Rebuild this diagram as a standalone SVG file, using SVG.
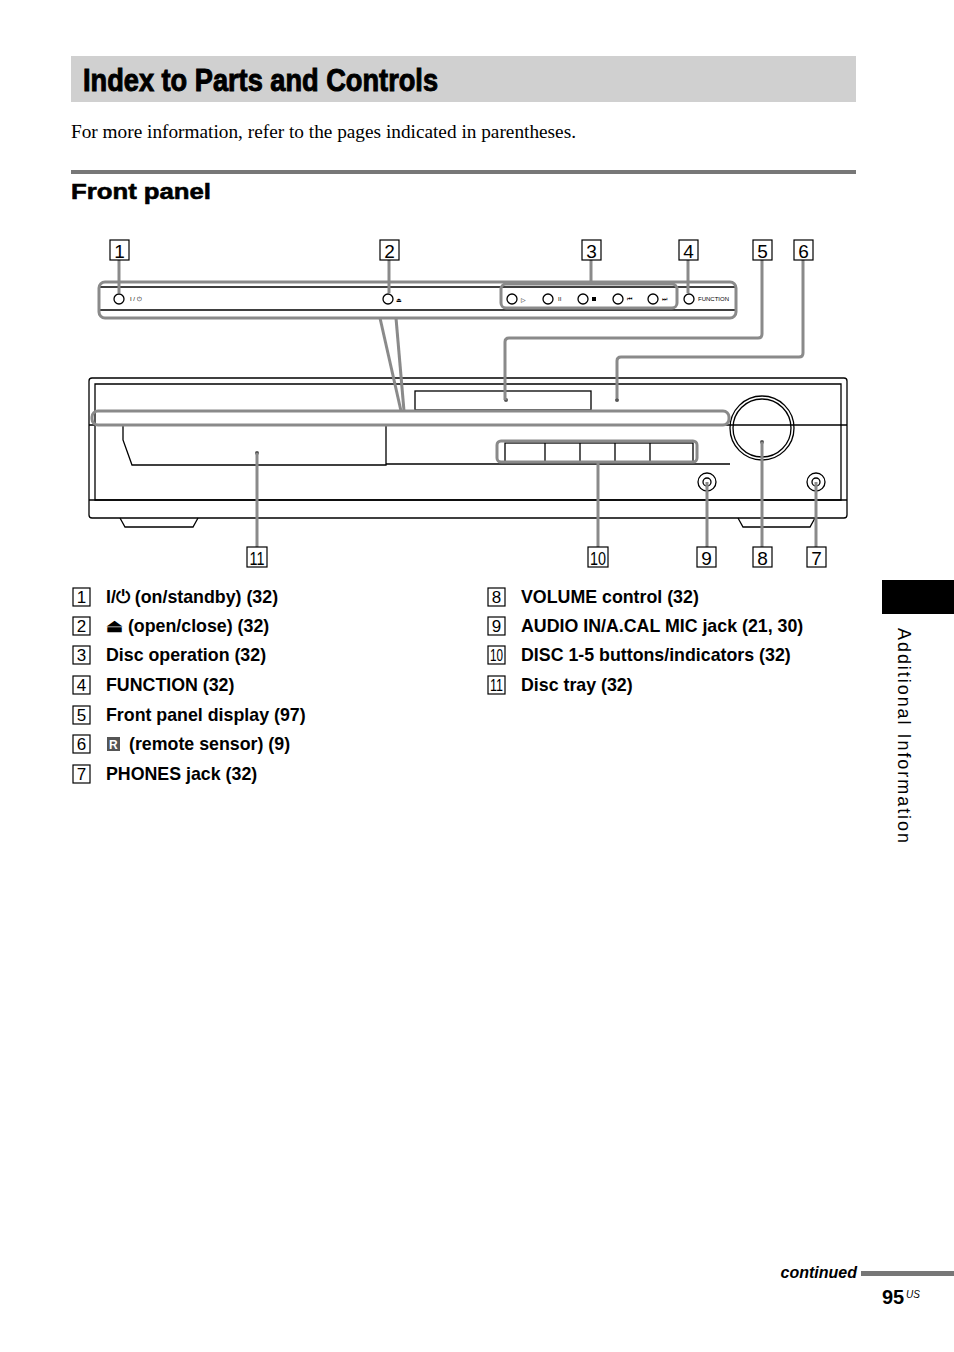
<svg xmlns="http://www.w3.org/2000/svg" width="954" height="1352" viewBox="0 0 954 1352">
<style>
.n{fill:#fff;stroke:#000;stroke-width:1.2}
.nt{font-family:"Liberation Sans",Arial,sans-serif;font-size:19px;text-anchor:middle}
.c{fill:none;stroke:#8a8a8a;stroke-width:3}
.d{fill:none;stroke:#000;stroke-width:1.3}
.t{font-family:"Liberation Sans",Arial,sans-serif;font-size:17.8px;font-weight:bold}
.s{font-family:"Liberation Sans",Arial,sans-serif;font-size:6px}
</style>
<rect width="954" height="1352" fill="#fff"/>
<rect x="71" y="56" width="785" height="46" fill="#d0d0d0"/>
<text x="83" y="91" font-family="Liberation Sans,Arial,sans-serif" font-weight="bold" font-size="32" stroke="#000" stroke-width="1" textLength="355" lengthAdjust="spacingAndGlyphs">Index to Parts and Controls</text>
<text x="71" y="138" font-family="Liberation Serif,Times New Roman,serif" font-size="19" textLength="505" lengthAdjust="spacingAndGlyphs">For more information, refer to the pages indicated in parentheses.</text>
<rect x="71" y="170" width="785" height="4" fill="#777"/>
<text x="71" y="199" font-family="Liberation Sans,Arial,sans-serif" font-weight="bold" font-size="22" stroke="#000" stroke-width="0.6" textLength="140" lengthAdjust="spacingAndGlyphs">Front panel</text>

<g id="device">
<rect x="89" y="378" width="758" height="140" rx="3" class="d"/>
<path d="M95 384 H841 V500 H95 Z" class="d" stroke-width="0.8"/>
<line x1="89" y1="500" x2="847" y2="500" class="d"/>
<rect x="415" y="391" width="176" height="19" class="d" stroke-width="1"/>
<line x1="89" y1="425" x2="847" y2="425" class="d" stroke-width="0.8"/>
<path d="M123 425 H386 V465 H132 L123 440 Z" class="d"/>
<path d="M386 464 H730" class="d" stroke-width="0.8"/>
<rect x="505" y="443" width="188" height="19" class="d"/>
<line x1="545" y1="443" x2="545" y2="462" class="d"/><line x1="580" y1="443" x2="580" y2="462" class="d"/><line x1="615" y1="443" x2="615" y2="462" class="d"/><line x1="650" y1="443" x2="650" y2="462" class="d"/>
<circle cx="762" cy="428" r="32" class="d" stroke-width="1.8"/>
<circle cx="762" cy="428" r="29" class="d" stroke-width="0.7"/>
<circle cx="707" cy="482" r="9" class="d"/><circle cx="707" cy="482" r="4" class="d"/>
<circle cx="816" cy="482" r="9" class="d"/><circle cx="816" cy="482" r="4" class="d"/>
<path d="M120 518 L125 527 H193 L198 518" class="d"/>
<path d="M738 518 L743 527 H810 L815 518" class="d"/>
<circle cx="506" cy="400" r="2" fill="#555"/><circle cx="617" cy="400" r="2" fill="#555"/><circle cx="257" cy="453" r="2" fill="#555"/><circle cx="762" cy="442" r="2" fill="#555"/>
</g>

<g id="panel-detail">
<line x1="100" y1="287" x2="735" y2="287" class="d"/>
<line x1="100" y1="310" x2="735" y2="310" class="d"/>
<circle cx="119" cy="299" r="5" class="d" stroke-width="1.8"/><text x="130" y="301" class="s">I / ⏻</text>
<circle cx="388" cy="299" r="5" class="d" stroke-width="1.8"/><text x="396" y="302" class="s">⏏</text>
<circle cx="512" cy="299" r="5" class="d" stroke-width="1.8"/><text x="521" y="302" class="s" font-size="9">▷</text>
<circle cx="548" cy="299" r="5" class="d" stroke-width="1.8"/><text x="558" y="301" class="s">II</text>
<circle cx="583" cy="299" r="5" class="d" stroke-width="1.8"/><rect x="592" y="297" width="4" height="4"/>
<circle cx="618" cy="299" r="5" class="d" stroke-width="1.8"/><text x="627" y="301" class="s">⏮</text>
<circle cx="653" cy="299" r="5" class="d" stroke-width="1.8"/><text x="662" y="301" class="s">⏭</text>
<circle cx="689" cy="299" r="5" class="d" stroke-width="1.8"/><text x="698" y="301" class="s" font-size="4.5">FUNCTION</text>
</g>

<g id="connectors">
<rect x="99" y="282" width="637" height="36" rx="6" class="c"/>
<rect x="501" y="284" width="176" height="24" rx="5" class="c"/>
<rect x="92" y="411" width="637" height="14" rx="6" class="c"/>
<rect x="497" y="441" width="200" height="21" rx="4" class="c"/>
<line x1="119" y1="259" x2="119" y2="293" class="c"/>
<line x1="389" y1="259" x2="389" y2="293" class="c"/>
<line x1="591" y1="259" x2="591" y2="284" class="c"/>
<line x1="688" y1="259" x2="688" y2="293" class="c"/>
<path d="M762 259 V334 Q762 338 758 338 H509 Q505 338 505 342 V400" class="c"/>
<path d="M803 259 V353 Q803 357 799 357 H621 Q617 357 617 361 V398" class="c"/>
<line x1="380" y1="318" x2="401" y2="411" class="c"/>
<line x1="396" y1="318" x2="404" y2="411" class="c"/>
<line x1="257" y1="453" x2="257" y2="548" class="c"/>
<line x1="598" y1="462" x2="598" y2="548" class="c"/>
<line x1="707" y1="482" x2="707" y2="548" class="c"/>
<line x1="762" y1="442" x2="762" y2="548" class="c"/>
<line x1="816" y1="482" x2="816" y2="548" class="c"/>
</g>

<g id="labels">
<rect x="110" y="240" width="19" height="20" class="n"/><text x="119.5" y="258" class="nt">1</text>
<rect x="380" y="240" width="19" height="20" class="n"/><text x="389.5" y="258" class="nt">2</text>
<rect x="582" y="240" width="19" height="20" class="n"/><text x="591.5" y="258" class="nt">3</text>
<rect x="679" y="240" width="19" height="20" class="n"/><text x="688.5" y="258" class="nt">4</text>
<rect x="753" y="240" width="19" height="20" class="n"/><text x="762.5" y="258" class="nt">5</text>
<rect x="794" y="240" width="19" height="20" class="n"/><text x="803.5" y="258" class="nt">6</text>
<rect x="247" y="547" width="20" height="20" class="n"/><text x="257" y="565" class="nt" textLength="15" lengthAdjust="spacingAndGlyphs">11</text>
<rect x="588" y="547" width="20" height="20" class="n"/><text x="598" y="565" class="nt" textLength="16" lengthAdjust="spacingAndGlyphs">10</text>
<rect x="697" y="547" width="19" height="20" class="n"/><text x="706.5" y="565" class="nt">9</text>
<rect x="753" y="547" width="19" height="20" class="n"/><text x="762.5" y="565" class="nt">8</text>
<rect x="807" y="547" width="19" height="20" class="n"/><text x="816.5" y="565" class="nt">7</text>
</g>

<g id="legend">
<g class="nt" style="text-anchor:middle;font-size:17px">
<rect x="73" y="588" width="17" height="18" class="n"/><text x="81.5" y="603">1</text>
<rect x="73" y="617" width="17" height="18" class="n"/><text x="81.5" y="632">2</text>
<rect x="73" y="646" width="17" height="18" class="n"/><text x="81.5" y="661">3</text>
<rect x="73" y="676" width="17" height="18" class="n"/><text x="81.5" y="691">4</text>
<rect x="73" y="706" width="17" height="18" class="n"/><text x="81.5" y="721">5</text>
<rect x="73" y="735" width="17" height="18" class="n"/><text x="81.5" y="750">6</text>
<rect x="73" y="765" width="17" height="18" class="n"/><text x="81.5" y="780">7</text>
<rect x="488" y="588" width="17" height="18" class="n"/><text x="496.5" y="603">8</text>
<rect x="488" y="617" width="17" height="18" class="n"/><text x="496.5" y="632">9</text>
<rect x="488" y="646" width="17" height="18" class="n"/><text x="496.5" y="661" textLength="13" lengthAdjust="spacingAndGlyphs">10</text>
<rect x="488" y="676" width="17" height="18" class="n"/><text x="496.5" y="691" textLength="13" lengthAdjust="spacingAndGlyphs">11</text>
</g>
<text x="106" y="603" class="t">I/⏻ (on/standby) (32)</text>
<text x="106" y="632" class="t">⏏ (open/close) (32)</text>
<text x="106" y="661" class="t">Disc operation (32)</text>
<text x="106" y="691" class="t">FUNCTION (32)</text>
<text x="106" y="721" class="t">Front panel display (97)</text>
<rect x="107" y="737" width="13" height="14" fill="#555"/><text x="109" y="749" font-family="Liberation Sans,Arial,sans-serif" font-size="12" font-weight="bold" fill="#fff">R</text>
<text x="129" y="750" class="t">(remote sensor) (9)</text>
<text x="106" y="780" class="t">PHONES jack (32)</text>
<text x="521" y="603" class="t">VOLUME control (32)</text>
<text x="521" y="632" class="t">AUDIO IN/A.CAL MIC jack (21, 30)</text>
<text x="521" y="661" class="t">DISC 1-5 buttons/indicators (32)</text>
<text x="521" y="691" class="t">Disc tray (32)</text>
</g>

<rect x="882" y="580" width="72" height="34" fill="#000"/>
<text transform="translate(898,628) rotate(90)" font-family="Liberation Sans,Arial,sans-serif" font-size="18" textLength="215" lengthAdjust="spacing">Additional Information</text>
<text x="857" y="1278" text-anchor="end" font-family="Liberation Sans,Arial,sans-serif" font-size="16" font-weight="bold" font-style="italic">continued</text>
<rect x="861" y="1271" width="93" height="5" fill="#777"/>
<text x="882" y="1304" font-family="Liberation Sans,Arial,sans-serif" font-size="20" font-weight="bold">95</text>
<text x="906" y="1298" font-family="Liberation Sans,Arial,sans-serif" font-size="10" font-style="italic">US</text>
</svg>
